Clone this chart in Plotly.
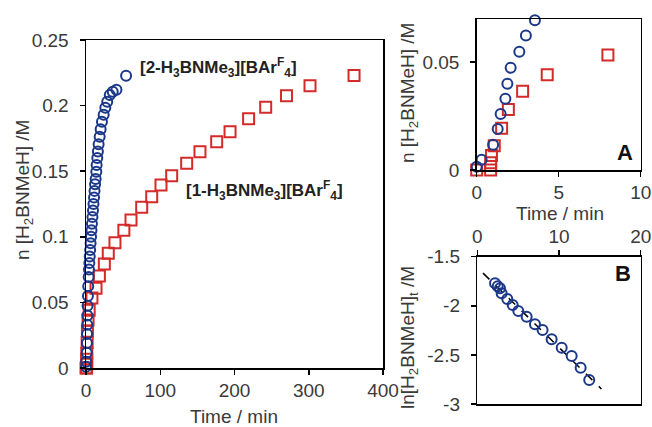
import plotly.graph_objects as go

# ---------------- data ----------------
# Main panel: [2-H3BNMe3][BArF4] (blue circles)
blue_t = [0, 0.3, 1.0, 1.28, 1.46, 1.75, 1.87, 2.07, 2.6, 3.0, 3.55, 4.0, 4.5, 5.0, 5.6, 6.2,
          6.8, 7.4, 8.0, 8.7, 9.4, 10.1, 10.8, 11.5, 12.2, 13.0, 13.9, 14.3, 15.2, 16.0, 17.0,
          18.4, 19.7, 21.5, 23.8, 26.0, 28.6, 32.0, 36.0, 41.0, 54.0]
blue_y = [0.001, 0.0047, 0.0117, 0.019, 0.026, 0.033, 0.040, 0.0474, 0.0548, 0.0624, 0.0694,
          0.075, 0.080, 0.085, 0.090, 0.095, 0.100, 0.105, 0.110, 0.115, 0.120, 0.125, 0.130,
          0.135, 0.140, 0.144, 0.1496, 0.1547, 0.160, 0.165, 0.1705, 0.1763, 0.182, 0.1877,
          0.193, 0.1984, 0.203, 0.208, 0.2105, 0.212, 0.2228]

# Main panel: [1-H3BNMe3][BArF4] (red squares)
red_t = [0, 0.85, 0.85, 0.9, 1.07, 1.52, 1.93, 2.8, 4.3, 8.0, 13.5, 18, 24.7, 30, 39, 51,
         60.6, 75, 88.5, 101, 115.4, 135.6, 153.5, 176, 194, 219, 242, 270, 301.7, 361]
red_y = [0, 0, 0.0034, 0.0067, 0.0112, 0.0194, 0.028, 0.0365, 0.0441, 0.0533, 0.0607, 0.0701,
         0.0793, 0.0874, 0.0955, 0.105, 0.1128, 0.1225, 0.1306, 0.1395, 0.1466, 0.156, 0.1649,
         0.1725, 0.180, 0.190, 0.1987, 0.2076, 0.2152, 0.223]

# Inset A (early times)
a_blue_t = [0, 0.3, 1.0, 1.28, 1.46, 1.75, 1.87, 2.07, 2.6, 3.0, 3.55]
a_blue_y = [0.0015, 0.0047, 0.0117, 0.019, 0.026, 0.033, 0.040, 0.0474, 0.0548, 0.0624, 0.0694]
a_red_t = [0, 0.85, 0.85, 0.9, 1.07, 1.52, 1.93, 2.8, 4.3, 8.0]
a_red_y = [0, 0, 0.0034, 0.0067, 0.0112, 0.0194, 0.028, 0.0365, 0.0441, 0.0533]

# Inset B (first-order plot)
b_t = [2.17, 2.5, 2.78, 2.98, 3.67, 4.33, 5.02, 6.04, 7.06, 7.99, 9.1, 10.33, 11.55, 12.65, 13.7]
b_ln = [-1.771, -1.80, -1.822, -1.873, -1.931, -1.992, -2.053, -2.111, -2.189, -2.246, -2.341,
        -2.427, -2.511, -2.63, -2.756]
fit_t = [0.7, 15.2]
fit_slope = -0.0814
fit_intercept = -1.61

main_xticks = [0, 100, 200, 300, 400]
main_yticks = [0, 0.05, 0.1, 0.15, 0.2, 0.25]
main_yticklabels = ["0", "0.05", "0.1", "0.15", "0.2", "0.25"]
a_xticks = [0, 5, 10]
a_yticks = [0, 0.05]
a_yticklabels = ["0", "0.05"]
b_xticks = [0, 10, 20]
b_yticks = [-3, -2.5, -2, -1.5]
b_yticklabels = ["-3", "-2.5", "-2", "-1.5"]

# ---------------- styling ----------------
W, H = 652, 427
BLUE = "#1b3889"
RED = "#d42a2a"
FONT = "Arial, Liberation Sans, sans-serif"
TXT = "#3a3a3a"

def px(x):
    return x / W

def py(y):
    return 1 - y / H

fig = go.Figure()

circ = dict(symbol="circle-open", size=10, color=BLUE, line=dict(width=2, color=BLUE))
sq = dict(symbol="square-open", size=11, color=RED, line=dict(width=2, color=RED))

fig.add_trace(go.Scatter(x=red_t, y=red_y, mode="markers", marker=sq, cliponaxis=False,
                         xaxis="x", yaxis="y", showlegend=False))
fig.add_trace(go.Scatter(x=blue_t, y=blue_y, mode="markers", marker=circ, cliponaxis=False,
                         xaxis="x", yaxis="y", showlegend=False))

fig.add_trace(go.Scatter(x=a_red_t, y=a_red_y, mode="markers", marker=sq, cliponaxis=False,
                         xaxis="x2", yaxis="y2", showlegend=False))
fig.add_trace(go.Scatter(x=a_blue_t, y=a_blue_y, mode="markers", marker=circ, cliponaxis=False,
                         xaxis="x2", yaxis="y2", showlegend=False))

fit_y = [fit_intercept + fit_slope * t for t in fit_t]
fig.add_trace(go.Scatter(x=fit_t, y=fit_y, mode="lines", line=dict(color="black", width=1.5, dash="dash"),
                         xaxis="x3", yaxis="y3", showlegend=False))
fig.add_trace(go.Scatter(x=b_t, y=b_ln, mode="markers",
                         marker=dict(symbol="circle-open", size=10, color=BLUE, line=dict(width=2, color=BLUE)),
                         cliponaxis=False, xaxis="x3", yaxis="y3", showlegend=False))

axcommon = dict(showline=True, linecolor="black", linewidth=1.5, mirror=True, showgrid=False,
                zeroline=False, ticks="outside", ticklen=5, tickwidth=1.5, tickcolor="black",
                automargin=False,
                tickfont=dict(family=FONT, size=19, color=TXT))
xcommon = dict(axcommon)
ycommon = dict(axcommon, ticklabelstandoff=7)

fig.update_layout(
    template="none",
    width=W, height=H,
    margin=dict(l=0, r=0, t=0, b=0, pad=0, autoexpand=False),
    paper_bgcolor="white", plot_bgcolor="white",
    font=dict(family=FONT, color=TXT),
    xaxis=dict(domain=[px(86), px(383)], range=[0, 400], tickvals=main_xticks, anchor="y", **xcommon),
    yaxis=dict(domain=[py(368), py(40)], range=[0, 0.25], tickvals=main_yticks,
               ticktext=main_yticklabels, anchor="x", **ycommon),
    xaxis2=dict(domain=[px(476.7), px(640.7)], range=[0, 10], tickvals=a_xticks, anchor="y2", **xcommon),
    yaxis2=dict(domain=[py(170), py(19)], range=[0, 0.07], tickvals=a_yticks,
                ticktext=a_yticklabels, anchor="x2", **ycommon),
    xaxis3=dict(domain=[px(477.3), px(640.7)], range=[0, 20], tickvals=b_xticks, side="top",
                anchor="y3", **xcommon),
    yaxis3=dict(domain=[py(404), py(256.7)], range=[-3, -1.5], tickvals=b_yticks,
                ticktext=b_yticklabels, anchor="x3", **ycommon),
)

ann = []
def add_text(text, x, y, size=19, angle=0, xanchor="center", bold=False, color=TXT):
    ann.append(dict(text=("<b>%s</b>" % text) if bold else text, x=px(x), y=py(y),
                    xref="paper", yref="paper", showarrow=False, textangle=angle,
                    xanchor=xanchor, yanchor="middle",
                    font=dict(family=FONT, size=size, color=color)))

add_text("Time / min", 234, 416)
add_text("n [H<sub>2</sub>BNMeH] /M", 24, 190, angle=-90)
add_text("Time / min", 560, 213)
add_text("n [H<sub>2</sub>BNMeH] /M", 409, 93, angle=-90)
add_text("ln[H<sub>2</sub>BNMeH]<sub>t</sub> /M", 409, 338, angle=-90)
add_text("[2-H<sub>3</sub>BNMe<sub>3</sub>][BAr<sup>F</sup><sub>4</sub>]", 138, 68, size=17,
         xanchor="left", bold=True, color="#222222")
add_text("[1-H<sub>3</sub>BNMe<sub>3</sub>][BAr<sup>F</sup><sub>4</sub>]", 184, 190, size=17,
         xanchor="left", bold=True, color="#222222")
add_text("A", 625, 153, size=22, bold=True, color="#111111")
add_text("B", 623, 273, size=22, bold=True, color="#111111")
fig.update_layout(annotations=ann)

fig.write_html("out.html",
               config={"displayModeBar": False, "staticPlot": True},
               post_script="document.body.style.margin='0';document.body.style.padding='0';"
                           "document.body.style.overflow='hidden';")
